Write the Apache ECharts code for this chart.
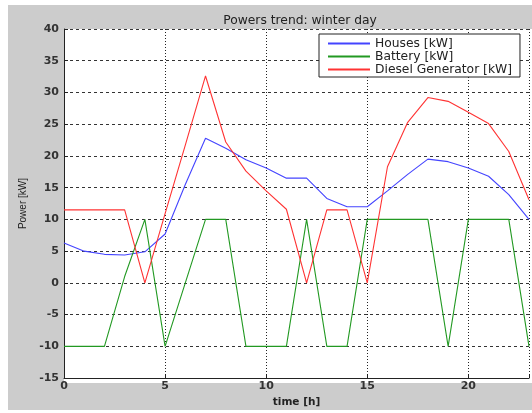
<!DOCTYPE html>
<html>
<head>
<meta charset="utf-8">
<script src="https://cdn.jsdelivr.net/npm/echarts@6/dist/echarts.min.js"></script>
<style>
  html, body { margin: 0; padding: 0; background: #fff; }
  #chart { width: 532px; height: 413px; }
</style>
</head>
<body>
<div id="chart"></div>
<script>
// hours of the day
var hours = [0, 1, 2, 3, 4, 5, 6, 7, 8, 9, 10, 11, 12, 13, 14, 15, 16, 17, 18, 19, 20, 21, 22, 23];

// powers, kW
var houses = [6.3, 5.0, 4.5, 4.4, 4.9, 7.7, 15.5, 22.8, 21.2, 19.4, 18.1, 16.5, 16.5, 13.3, 12.0, 12.0, 14.5, 17.1, 19.5, 19.1, 18.1, 16.8, 13.9, 10.0];
var battery = [-10, -10, -10, 1, 10, -10, 0, 10, 10, -10, -10, -10, 10, -10, -10, 10, 10, 10, 10, -10, 10, 10, 10, -10];
var diesel = [11.5, 11.5, 11.5, 11.5, 0, 10.9, 21.7, 32.6, 22.2, 17.6, 14.5, 11.6, 0, 11.5, 11.5, 0, 18.3, 25.3, 29.2, 28.6, 26.9, 25.1, 20.7, 13.1];

var seriesNames = ['Houses [kW]', 'Battery [kW]', 'Diesel Generator [kW]'];
var seriesColors = ['#4444ff', '#229922', '#ff3333'];

var xTicks = [0, 5, 10, 15, 20];
var yTicks = [-15, -10, -5, 0, 5, 10, 15, 20, 25, 30, 35, 40];

function pairs(vals) {
  return hours.map(function (h, i) { return [h, vals[i]]; });
}

var chart = echarts.init(document.getElementById('chart'));

var font = 'DejaVu Sans, Verdana, sans-serif';

var option = {
  backgroundColor: '#fff',
  animation: false,
  graphic: [
    {
      type: 'rect',
      z: -10,
      shape: { x: 8, y: 5, width: 524, height: 405 },
      style: { fill: '#cccccc' }
    },
    {
      type: 'rect',
      z: -9,
      shape: { x: 64, y: 29, width: 468, height: 354 },
      style: { fill: '#ffffff' }
    }
  ],
  title: {
    text: 'Powers trend: winter day',
    left: 295,
    top: 10,
    textAlign: 'center',
    textStyle: { fontFamily: font, fontSize: 12.3, fontWeight: 'normal', color: '#222' }
  },
  legend: {
    orient: 'vertical',
    left: 319,
    top: 34,
    padding: [3, 8, 1, 9],
    itemGap: 0,
    itemWidth: 42,
    itemHeight: 2,
    backgroundColor: '#fff',
    borderColor: '#222',
    borderWidth: 1,
    textStyle: { fontFamily: font, fontSize: 12.3, color: '#222', lineHeight: 13 },
    data: seriesNames.map(function (n, i) {
      return { name: n, icon: 'rect', itemStyle: { color: seriesColors[i] } };
    })
  },
  grid: { left: 64, top: 29, right: 3, bottom: 30, containLabel: false },
  xAxis: {
    type: 'value',
    min: 0,
    max: 23,
    interval: 5,
    name: 'time [h]',
    nameLocation: 'middle',
    nameGap: 16,
    nameTextStyle: { fontFamily: font, fontSize: 10.5, color: '#222', fontWeight: 'bold' },
    axisLine: { onZero: false, lineStyle: { color: '#222', width: 1 } },
    axisTick: { inside: true, length: 4, lineStyle: { color: '#222' } },
    axisLabel: {
      fontFamily: font, fontSize: 11, fontWeight: 'bold', color: '#333', margin: 3,
      formatter: function (v) { return xTicks.indexOf(v) >= 0 ? String(v) : ''; }
    },
    splitLine: { show: true, lineStyle: { color: '#222', type: [1, 2], width: 1 } }
  },
  yAxis: {
    type: 'value',
    min: -15,
    max: 40,
    interval: 5,
    name: 'Power [kW]',
    nameLocation: 'middle',
    nameGap: 35,
    nameTextStyle: { fontFamily: 'Liberation Sans, Arial, sans-serif', fontSize: 10, color: '#222' },
    axisLine: { show: true, onZero: false, lineStyle: { color: '#222', width: 1 } },
    axisTick: { show: true, inside: true, length: 4, lineStyle: { color: '#222' } },
    axisLabel: {
      fontFamily: font, fontSize: 11, fontWeight: 'bold', color: '#333', margin: 5,
      formatter: function (v) { return yTicks.indexOf(v) >= 0 ? String(v) : ''; }
    },
    splitLine: { show: true, lineStyle: { color: '#333', type: [3, 3], width: 1 } }
  },
  series: [
    {
      name: seriesNames[0],
      type: 'line',
      symbol: 'none',
      data: pairs(houses),
      lineStyle: { color: seriesColors[0], width: 1.1 },
      itemStyle: { color: seriesColors[0] }
    },
    {
      name: seriesNames[1],
      type: 'line',
      symbol: 'none',
      data: pairs(battery),
      lineStyle: { color: seriesColors[1], width: 1.1 },
      itemStyle: { color: seriesColors[1] }
    },
    {
      name: seriesNames[2],
      type: 'line',
      symbol: 'none',
      data: pairs(diesel),
      lineStyle: { color: seriesColors[2], width: 1.1 },
      itemStyle: { color: seriesColors[2] }
    }
  ]
};

chart.setOption(option);
</script>
</body>
</html>
